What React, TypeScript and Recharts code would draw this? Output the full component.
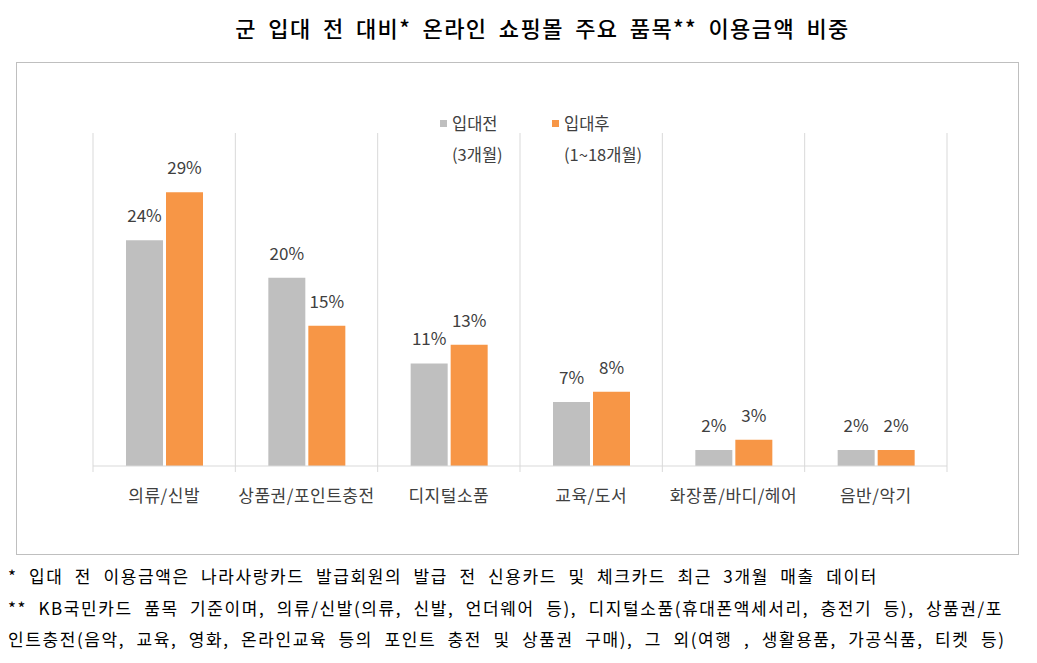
import React from "react";
import { BarChart, Bar, XAxis, YAxis, CartesianGrid, LabelList } from "recharts";

const categories = ["의류/신발", "상품권/포인트충전", "디지털소품", "교육/도서", "화장품/바디/헤어", "음반/악기"];
const beforeValues = [24.0, 20.0, 10.9, 6.8, 1.7, 1.7];
const afterValues = [29.1, 14.9, 12.9, 7.9, 2.8, 1.7];
const seriesNames = ["입대전", "입대후"];
const seriesSubNames = ["(3개월)", "(1~18개월)"];
const seriesColors = ["#BFBFBF", "#F79646"];

const TITLE = "군 입대 전 대비* 온라인 쇼핑몰 주요 품목** 이용금액 비중";
const NOTES = [
  "* 입대 전 이용금액은 나라사랑카드 발급회원의 발급 전 신용카드 및 체크카드 최근 3개월 매출 데이터",
  "** KB국민카드 품목 기준이며, 의류/신발(의류, 신발, 언더웨어 등), 디지털소품(휴대폰액세서리, 충전기 등), 상품권/포",
  "인트충전(음악, 교육, 영화, 온라인교육 등의 포인트 충전 및 상품권 구매), 그 외(여행 , 생활용품, 가공식품, 티켓 등)",
];

const data = categories.map((name, i) => ({
  name,
  before: beforeValues[i],
  after: afterValues[i],
}));

const FONT = '"Noto Sans CJK KR", "Noto Sans", sans-serif';
const GRID = "#D9D9D9";
const TEXT = "#404040";

const pct = (v: number) => `${Math.round(v)}%`;

function CategoryTick(props: any) {
  const { x, y, payload, width, visibleTicksCount, index } = props;
  const half = width / visibleTicksCount / 2;
  return (
    <g>
      <line x1={x - half} x2={x - half} y1={y} y2={y + 6} stroke={GRID} />
      {index === visibleTicksCount - 1 && (
        <line x1={x + half} x2={x + half} y1={y} y2={y + 6} stroke={GRID} />
      )}
      <text x={x} y={y + 36} textAnchor="middle" fill={TEXT} fontSize={17} letterSpacing={0.5} fontFamily={FONT}>
        {payload.value}
      </text>
    </g>
  );
}

export default function App() {
  return (
    <div style={{ position: "absolute", left: 0, top: 0, width: 1037, height: 663, background: "#fff", fontFamily: FONT }}>
      <div style={{ position: "absolute", left: 0, top: 11, width: 1085, textAlign: "center", fontSize: 22, fontWeight: 500, color: "#000", letterSpacing: 1.4, wordSpacing: 5 }}>
        {TITLE}
      </div>
      <div style={{ position: "absolute", left: 16, top: 62, width: 1001, height: 491, border: "1px solid #BFBFBF" }} />
      <div style={{ position: "absolute", left: 0, top: 0 }}>
        <BarChart width={1037} height={555} data={data} margin={{ top: 133, right: 90, bottom: 59, left: 93 }} barSize={37} barGap={3}>
          <CartesianGrid
            horizontal={false}
            stroke={GRID}
            verticalCoordinatesGenerator={({ offset }: any) =>
              categories.map((_, i) => offset.left + (i * offset.width) / categories.length).concat(offset.left + offset.width)
            }
          />
          <XAxis dataKey="name" height={30} axisLine={{ stroke: GRID }} tickLine={false} interval={0} tick={<CategoryTick />} tickMargin={0} tickSize={0} />
          <YAxis hide domain={[0, 35.4]} />
          <Bar dataKey="before" name={seriesNames[0]} fill={seriesColors[0]} isAnimationActive={false}>
            <LabelList dataKey="before" position="top" offset={18} formatter={pct} fill={TEXT} fontSize={17} fontFamily={FONT} />
          </Bar>
          <Bar dataKey="after" name={seriesNames[1]} fill={seriesColors[1]} isAnimationActive={false}>
            <LabelList dataKey="after" position="top" offset={18} formatter={pct} fill={TEXT} fontSize={17} fontFamily={FONT} />
          </Bar>
        </BarChart>
      </div>
      <div style={{ position: "absolute", left: 440, top: 108, display: "flex", fontSize: 16.5, color: TEXT }}>
        {seriesNames.map((name, i) => (
          <div key={name} style={{ display: "flex", width: 112 }}>
            <div style={{ width: 7, height: 7, background: seriesColors[i], marginTop: 12, marginRight: 5 }} />
            <div style={{ lineHeight: "31px" }}>
              <div>{name}</div>
              <div>{seriesSubNames[i]}</div>
            </div>
          </div>
        ))}
      </div>
      <div style={{ position: "absolute", left: 8, top: 560, fontSize: 17, lineHeight: "31.5px", color: "#000", whiteSpace: "nowrap", letterSpacing: 1.6, wordSpacing: 6 }}>
        {NOTES.map((n) => (
          <div key={n}>{n}</div>
        ))}
      </div>
    </div>
  );
}
